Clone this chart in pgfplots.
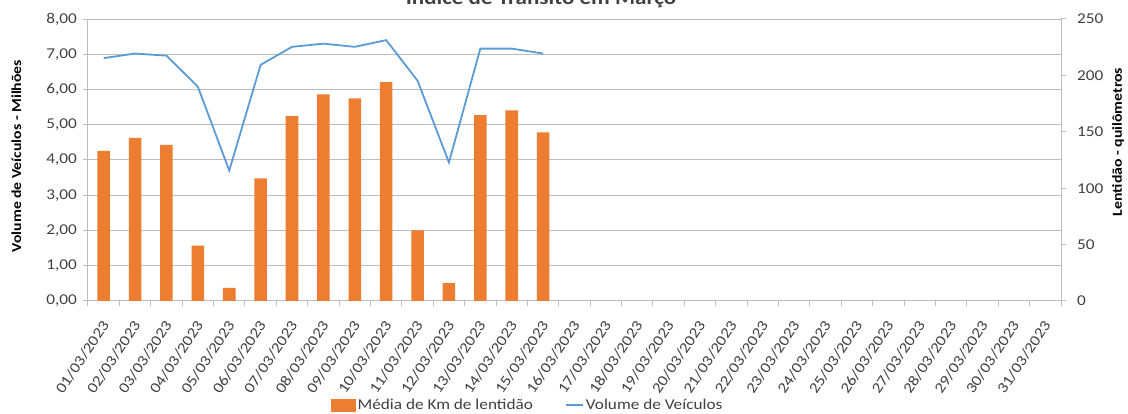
\documentclass[border=0pt]{standalone}
\usepackage{pgfplots}
\pgfplotsset{compat=1.18}
\usepackage{fontspec}
\setmainfont{Carlito}[FakeStretch=1.15]
\definecolor{barorange}{HTML}{ED7D31}
\definecolor{lineblue}{HTML}{5B9BD5}
\definecolor{txtgray}{HTML}{404040}
\definecolor{gridgray}{HTML}{BDBDBD}
\begin{document}
\fontsize{15pt}{18pt}\selectfont
\begin{tikzpicture}
\begin{axis}[
  name=main,
  scale only axis, width=973pt, height=282pt,
  xmin=0.5, xmax=31.5, ymin=0, ymax=8,
  axis x line*=bottom, axis y line*=left,
  axis line style={gridgray, line width=1pt},
  xtick={1,...,31},
  xticklabels={01/03/2023,02/03/2023,03/03/2023,04/03/2023,05/03/2023,06/03/2023,07/03/2023,08/03/2023,09/03/2023,10/03/2023,11/03/2023,12/03/2023,13/03/2023,14/03/2023,15/03/2023,16/03/2023,17/03/2023,18/03/2023,19/03/2023,20/03/2023,21/03/2023,22/03/2023,23/03/2023,24/03/2023,25/03/2023,26/03/2023,27/03/2023,28/03/2023,29/03/2023,30/03/2023,31/03/2023},
  major x tick style={draw=none},
  minor xtick={0.5,1.5,...,31.5},
  minor tick length=5pt, major tick length=5pt,
  tick align=outside,
  tick style={gridgray, line width=1pt},
  xticklabel style={xshift=-3pt, yshift=-12pt, rotate=56, anchor=north east, font=\fontsize{15pt}{18pt}\selectfont, text=txtgray, inner sep=1pt},
  ytick={0,1,...,8},
  yticklabel style={font=\fontsize{15pt}{18pt}\selectfont, text=txtgray, xshift=-1pt},
  /pgf/number format/.cd, fixed, fixed zerofill, precision=2, use comma, assume math mode=true,
  /pgfplots/.cd,
  ymajorgrids, grid style={gridgray, line width=1pt},
  ylabel={\bfseries Volume de Veículos - Milhões},
  ylabel style={at={(axis description cs:-0.0735,0.514)}, anchor=center, font=\fontsize{13.7pt}{16pt}\selectfont},
  legend style={at={(0.452,-0.369)}, anchor=center, draw=none, fill=none, legend columns=2, font=\fontsize{15pt}{18pt}\selectfont, text=txtgray, /tikz/every even column/.append style={column sep=30pt}},
  clip=false,
]
\addlegendimage{legend image code/.code={\fill[barorange] (0pt,-6pt) rectangle (24pt,6pt);}}
\addlegendentry{Média de Km de lentidão}
\addplot[lineblue, line width=1.8pt, mark=none] coordinates {
(1,6.89) (2,7.02) (3,6.96) (4,6.08) (5,3.70) (6,6.70) (7,7.21) (8,7.30) (9,7.21) (10,7.40) (11,6.25) (12,3.93) (13,7.16) (14,7.16) (15,7.02)};
\addlegendentry{Volume de Veículos}
\coordinate (bl) at (rel axis cs:0,0);
\node[anchor=base, font=\bfseries\fontsize{20pt}{24pt}\selectfont, text=txtgray] at (axis description cs:0.4656,1.053) {Índice de Trânsito em Março};
\end{axis}
\begin{axis}[
  scale only axis, width=973pt, height=282pt,
  xmin=0.5, xmax=31.5, ymin=0, ymax=250,
  axis x line=none, axis y line*=right,
  axis line style={gridgray, line width=1pt},
  ytick={0,50,...,250},
  major tick length=5pt, tick align=outside,
  tick style={gridgray, line width=1pt},
  yticklabel style={font=\fontsize{15pt}{18pt}\selectfont, text=txtgray, xshift=6pt},
  ylabel={\bfseries Lentidão - quilômetros},
  ylabel style={at={(axis description cs:1.0586,0.564)}, anchor=center, rotate=0, font=\fontsize{13.7pt}{16pt}\selectfont},
  /pgf/number format/assume math mode=true,
  clip=false,
]
\addplot[ybar, bar width=0.4, fill=barorange, draw=none] coordinates {
(1,133.1) (2,144.7) (3,138.4) (4,49.1) (5,11.6) (6,108.8) (7,163.8) (8,183.1) (9,179.7) (10,194.1) (11,62.5) (12,15.9) (13,164.7) (14,169.1) (15,149.4)};
\end{axis}
\pgfresetboundingbox
\useasboundingbox ([shift={(-88pt,-113pt)}]bl) rectangle ([shift={(1040pt,301pt)}]bl);
\end{tikzpicture}
\end{document}
